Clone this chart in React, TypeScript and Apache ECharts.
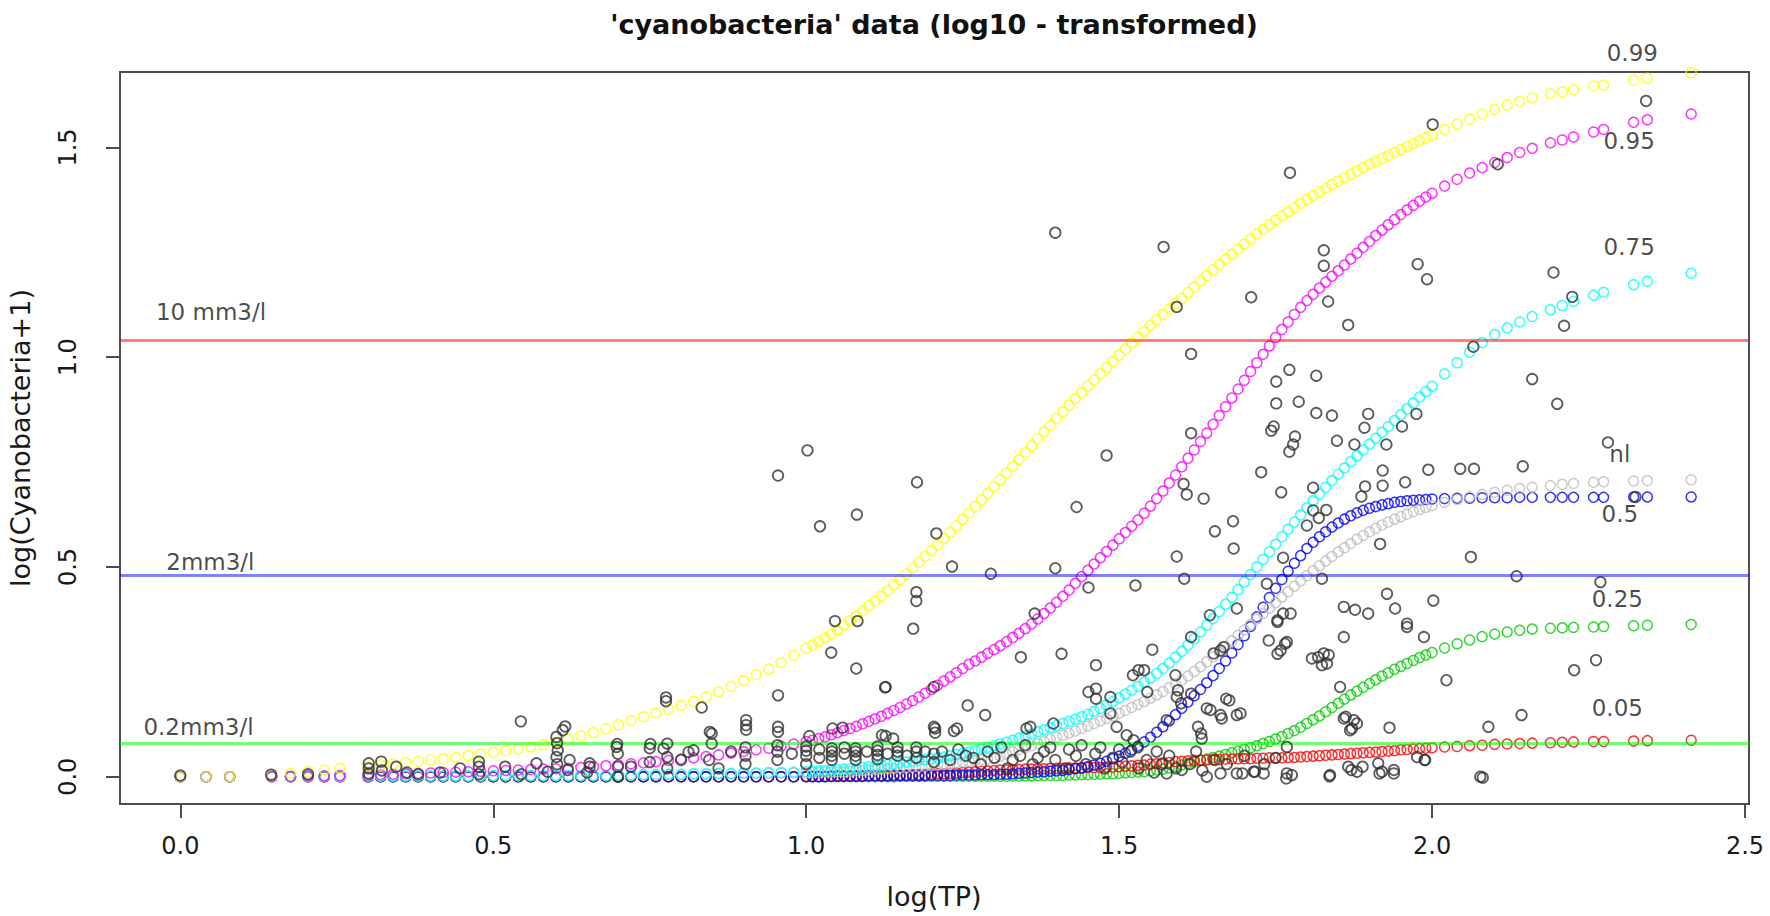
import React, { useEffect, useRef } from "react";
import * as echarts from "echarts";

const TITLE = "'cyanobacteria' data (log10 - transformed)";
const X_NAME = "log(TP)";
const Y_NAME = "log(Cyanobacteria+1)";
const X_TICKS = [0, 0.5, 1, 1.5, 2, 2.5];
const Y_TICKS = [0, 0.5, 1, 1.5];
const X_MIN = -0.0964;
const X_MAX = 2.5064;
const Y_MIN = -0.065;
const Y_MAX = 1.68;

// x positions (log TP) at which the quantile curves were evaluated
const GRID_X = [
  0, 0.041, 0.079, 0.146, 0.176, 0.204, 0.23, 0.255,
  0.30, 0.32, 0.34, 0.36, 0.38, 0.40, 0.42, 0.44, 0.46, 0.48, 0.50, 0.52, 0.54, 0.56, 0.58, 0.60,
  0.62, 0.64, 0.66, 0.68, 0.70, 0.72, 0.74, 0.76, 0.78, 0.80, 0.82, 0.84, 0.86, 0.88, 0.90, 0.92, 0.94, 0.96, 0.98,
  1.00, 1.01, 1.02, 1.03, 1.04, 1.05, 1.06, 1.07, 1.08, 1.09,
  1.10, 1.11, 1.12, 1.13, 1.14, 1.15, 1.16, 1.17, 1.18, 1.19,
  1.20, 1.21, 1.22, 1.23, 1.24, 1.25, 1.26, 1.27, 1.28, 1.29,
  1.30, 1.31, 1.32, 1.33, 1.34, 1.35, 1.36, 1.37, 1.38, 1.39,
  1.40, 1.41, 1.42, 1.43, 1.44, 1.45, 1.46, 1.47, 1.48, 1.49,
  1.50, 1.51, 1.52, 1.53, 1.54, 1.55, 1.56, 1.57, 1.58, 1.59,
  1.60, 1.61, 1.62, 1.63, 1.64, 1.65, 1.66, 1.67, 1.68, 1.69,
  1.70, 1.71, 1.72, 1.73, 1.74, 1.75, 1.76, 1.77, 1.78, 1.79,
  1.80, 1.81, 1.82, 1.83, 1.84, 1.85, 1.86, 1.87, 1.88, 1.89,
  1.90, 1.91, 1.92, 1.93, 1.94, 1.95, 1.96, 1.97, 1.98, 1.99,
  2.00,
  2.02, 2.04, 2.06, 2.08, 2.10, 2.12, 2.14, 2.16, 2.189, 2.208, 2.226, 2.258, 2.274, 2.322, 2.344, 2.414,
];

const Q99 = [
  0, 0, 0, 0.005, 0.008, 0.012, 0.016, 0.02,
  0.025, 0.028, 0.031, 0.034, 0.037, 0.040, 0.043, 0.046, 0.050, 0.054, 0.058, 0.062, 0.066, 0.071, 0.076, 0.082,
  0.089, 0.097, 0.105, 0.114, 0.124, 0.134, 0.143, 0.152, 0.161, 0.170, 0.180, 0.190, 0.202, 0.215, 0.229, 0.243, 0.257, 0.272, 0.289,
  0.306, 0.314, 0.322, 0.331, 0.340, 0.350, 0.361, 0.372, 0.383, 0.395,
  0.407, 0.419, 0.431, 0.444, 0.457, 0.470, 0.483, 0.497, 0.511, 0.525,
  0.539, 0.553, 0.568, 0.583, 0.598, 0.613, 0.628, 0.644, 0.660, 0.676,
  0.692, 0.708, 0.724, 0.740, 0.756, 0.773, 0.789, 0.806, 0.822, 0.838,
  0.854, 0.870, 0.886, 0.901, 0.916, 0.931, 0.946, 0.961, 0.975, 0.990,
  1.005, 1.020, 1.034, 1.048, 1.062, 1.076, 1.089, 1.102, 1.115, 1.128,
  1.140, 1.154, 1.168, 1.182, 1.195, 1.208, 1.221, 1.234, 1.246, 1.258,
  1.270, 1.282, 1.294, 1.305, 1.316, 1.327, 1.337, 1.347, 1.357, 1.367,
  1.376, 1.385, 1.394, 1.403, 1.412, 1.420, 1.428, 1.436, 1.444, 1.452,
  1.460, 1.467, 1.474, 1.481, 1.488, 1.495, 1.502, 1.509, 1.516, 1.523,
  1.530,
  1.543, 1.556, 1.568, 1.580, 1.591, 1.601, 1.610, 1.618, 1.628, 1.633, 1.638, 1.646, 1.649, 1.660, 1.665, 1.678,
];

const Q95 = [
  0, 0, 0, 0.001, 0.001, 0.002, 0.002, 0.003,
  0.004, 0.005, 0.006, 0.007, 0.008, 0.009, 0.010, 0.011, 0.012, 0.013, 0.014, 0.015, 0.016, 0.017, 0.018, 0.019,
  0.020, 0.022, 0.024, 0.026, 0.028, 0.031, 0.033, 0.036, 0.039, 0.042, 0.045, 0.048, 0.052, 0.056, 0.060, 0.064, 0.068, 0.073, 0.078,
  0.084, 0.087, 0.091, 0.095, 0.100, 0.105, 0.110, 0.115, 0.120, 0.126,
  0.132, 0.138, 0.144, 0.151, 0.158, 0.165, 0.173, 0.181, 0.190, 0.199,
  0.208, 0.218, 0.228, 0.238, 0.248, 0.258, 0.268, 0.276, 0.285, 0.294,
  0.303, 0.312, 0.322, 0.332, 0.342, 0.353, 0.364, 0.376, 0.389, 0.402,
  0.416, 0.430, 0.445, 0.461, 0.477, 0.492, 0.507, 0.522, 0.537, 0.552,
  0.567, 0.582, 0.597, 0.612, 0.628, 0.645, 0.663, 0.681, 0.700, 0.719,
  0.739, 0.759, 0.779, 0.799, 0.819, 0.840, 0.861, 0.882, 0.903, 0.924,
  0.945, 0.966, 0.987, 1.007, 1.027, 1.047, 1.066, 1.084, 1.102, 1.119,
  1.135, 1.150, 1.165, 1.179, 1.193, 1.206, 1.220, 1.234, 1.248, 1.262,
  1.276, 1.290, 1.303, 1.316, 1.328, 1.340, 1.351, 1.362, 1.372, 1.382,
  1.391,
  1.408, 1.424, 1.439, 1.452, 1.464, 1.476, 1.488, 1.498, 1.511, 1.518, 1.525, 1.537, 1.543, 1.560, 1.566, 1.580,
];

const Q75 = [
  0, 0, 0, 0, 0, 0.001, 0.001, 0.001,
  0.002, 0.002, 0.002, 0.002, 0.002, 0.002, 0.002, 0.002, 0.002, 0.002, 0.003, 0.003, 0.003, 0.003, 0.003, 0.003,
  0.003, 0.003, 0.003, 0.003, 0.004, 0.004, 0.005, 0.005, 0.006, 0.006, 0.007, 0.007, 0.008, 0.008, 0.009, 0.009, 0.010, 0.010, 0.011,
  0.012, 0.013, 0.014, 0.015, 0.016, 0.017, 0.018, 0.019, 0.020, 0.022,
  0.024, 0.025, 0.027, 0.029, 0.031, 0.033, 0.035, 0.037, 0.039, 0.041,
  0.043, 0.045, 0.047, 0.050, 0.053, 0.056, 0.059, 0.062, 0.066, 0.070,
  0.074, 0.078, 0.082, 0.087, 0.092, 0.097, 0.102, 0.107, 0.112, 0.117,
  0.122, 0.127, 0.132, 0.137, 0.143, 0.149, 0.156, 0.163, 0.171, 0.179,
  0.188, 0.197, 0.206, 0.215, 0.225, 0.235, 0.246, 0.258, 0.271, 0.285,
  0.299, 0.314, 0.329, 0.345, 0.361, 0.377, 0.394, 0.411, 0.428, 0.446,
  0.464, 0.482, 0.500, 0.518, 0.536, 0.554, 0.572, 0.590, 0.607, 0.624,
  0.641, 0.658, 0.674, 0.690, 0.706, 0.721, 0.736, 0.751, 0.765, 0.779,
  0.793, 0.807, 0.821, 0.835, 0.849, 0.863, 0.877, 0.891, 0.905, 0.918,
  0.931,
  0.960, 0.987, 1.012, 1.035, 1.054, 1.070, 1.084, 1.097, 1.113, 1.123, 1.133, 1.148, 1.155, 1.173, 1.181, 1.200,
];

const QNL = [
  0, 0, 0, 0, 0, 0, 0, 0,
  0.001, 0.001, 0.001, 0.001, 0.001, 0.001, 0.001, 0.001, 0.001, 0.001, 0.002, 0.002, 0.002, 0.002, 0.002, 0.002,
  0.002, 0.002, 0.002, 0.002, 0.003, 0.003, 0.004, 0.004, 0.005, 0.005, 0.006, 0.006, 0.007, 0.007, 0.008, 0.008, 0.008, 0.009, 0.009,
  0.009, 0.010, 0.010, 0.011, 0.011, 0.012, 0.012, 0.013, 0.014, 0.015,
  0.016, 0.017, 0.018, 0.019, 0.020, 0.021, 0.022, 0.023, 0.024, 0.025,
  0.027, 0.028, 0.030, 0.031, 0.033, 0.035, 0.037, 0.039, 0.041, 0.043,
  0.045, 0.049, 0.054, 0.059, 0.064, 0.069, 0.074, 0.079, 0.084, 0.089,
  0.094, 0.099, 0.104, 0.109, 0.115, 0.121, 0.127, 0.133, 0.139, 0.145,
  0.151, 0.158, 0.165, 0.172, 0.179, 0.187, 0.195, 0.203, 0.212, 0.221,
  0.230, 0.240, 0.251, 0.262, 0.274, 0.286, 0.298, 0.311, 0.324, 0.337,
  0.350, 0.363, 0.376, 0.389, 0.402, 0.415, 0.428, 0.441, 0.454, 0.467,
  0.479, 0.491, 0.503, 0.514, 0.525, 0.536, 0.546, 0.556, 0.566, 0.575,
  0.584, 0.592, 0.600, 0.607, 0.614, 0.620, 0.626, 0.632, 0.637, 0.642,
  0.646,
  0.654, 0.661, 0.667, 0.673, 0.678, 0.683, 0.687, 0.690, 0.694, 0.697, 0.699, 0.702, 0.703, 0.705, 0.706, 0.708,
];

const Q50 = [
  0, 0, 0, 0, 0, 0, 0, 0,
  0, 0, 0, 0, 0, 0, 0, 0, 0, 0, 0, 0, 0, 0, 0, 0,
  0, 0, 0, 0, 0, 0, 0, 0, 0, 0, 0, 0, 0, 0, 0, 0, 0, 0, 0,
  0.000, 0.000, 0.000, 0.000, 0.001, 0.001, 0.001, 0.001, 0.001, 0.001,
  0.002, 0.002, 0.002, 0.002, 0.002, 0.002, 0.002, 0.002, 0.002, 0.002,
  0.003, 0.003, 0.003, 0.003, 0.004, 0.004, 0.004, 0.004, 0.005, 0.005,
  0.005, 0.006, 0.006, 0.007, 0.008, 0.009, 0.010, 0.011, 0.012, 0.013,
  0.014, 0.015, 0.017, 0.019, 0.021, 0.024, 0.028, 0.032, 0.037, 0.043,
  0.049, 0.056, 0.064, 0.073, 0.083, 0.094, 0.106, 0.119, 0.133, 0.148,
  0.163, 0.178, 0.193, 0.208, 0.224, 0.241, 0.258, 0.276, 0.295, 0.315,
  0.336, 0.358, 0.381, 0.404, 0.427, 0.449, 0.470, 0.490, 0.509, 0.527,
  0.544, 0.559, 0.572, 0.584, 0.595, 0.605, 0.614, 0.622, 0.629, 0.635,
  0.640, 0.644, 0.648, 0.651, 0.654, 0.656, 0.658, 0.659, 0.660, 0.661,
  0.662,
  0.663, 0.664, 0.664, 0.665, 0.665, 0.665, 0.666, 0.666, 0.666, 0.666, 0.666, 0.666, 0.666, 0.667, 0.667, 0.667,
];

const Q25 = [
  0, 0, 0, 0, 0, 0, 0, 0,
  0, 0, 0, 0, 0, 0, 0, 0, 0, 0, 0, 0, 0, 0, 0, 0,
  0, 0, 0, 0, 0, 0, 0, 0, 0, 0, 0, 0, 0, 0, 0, 0, 0, 0, 0,
  0, 0, 0, 0, 0, 0, 0, 0, 0, 0,
  0, 0, 0, 0, 0, 0.001, 0.001, 0.001, 0.001, 0.001,
  0.001, 0.001, 0.001, 0.001, 0.001, 0.001, 0.001, 0.001, 0.001, 0.001,
  0.001, 0.001, 0.001, 0.002, 0.002, 0.002, 0.002, 0.002, 0.003, 0.003,
  0.003, 0.003, 0.004, 0.004, 0.005, 0.005, 0.006, 0.006, 0.007, 0.007,
  0.008, 0.009, 0.010, 0.011, 0.012, 0.014, 0.016, 0.018, 0.021, 0.024,
  0.028, 0.032, 0.035, 0.039, 0.042, 0.046, 0.049, 0.053, 0.057, 0.061,
  0.065, 0.069, 0.074, 0.079, 0.084, 0.090, 0.096, 0.103, 0.110, 0.118,
  0.127, 0.136, 0.145, 0.155, 0.165, 0.175, 0.185, 0.195, 0.204, 0.213,
  0.222, 0.231, 0.240, 0.248, 0.256, 0.263, 0.270, 0.277, 0.284, 0.290,
  0.296,
  0.307, 0.317, 0.326, 0.334, 0.340, 0.345, 0.349, 0.352, 0.354, 0.355, 0.356, 0.357, 0.358, 0.360, 0.361, 0.363,
];

const Q05 = [
  0, 0, 0, 0, 0, 0, 0, 0,
  0, 0, 0, 0, 0, 0, 0, 0, 0, 0, 0, 0, 0, 0, 0, 0,
  0, 0, 0, 0, 0, 0, 0, 0, 0, 0, 0, 0, 0, 0, 0, 0, 0, 0, 0,
  0.001, 0.001, 0.001, 0.001, 0.001, 0.002, 0.002, 0.002, 0.002, 0.002,
  0.003, 0.003, 0.003, 0.003, 0.004, 0.004, 0.004, 0.005, 0.005, 0.005,
  0.006, 0.007, 0.007, 0.008, 0.009, 0.010, 0.011, 0.012, 0.013, 0.014,
  0.015, 0.016, 0.016, 0.017, 0.017, 0.018, 0.018, 0.019, 0.019, 0.020,
  0.020, 0.020, 0.021, 0.021, 0.021, 0.022, 0.022, 0.022, 0.023, 0.023,
  0.024, 0.025, 0.026, 0.027, 0.028, 0.030, 0.031, 0.033, 0.034, 0.036,
  0.037, 0.038, 0.039, 0.040, 0.040, 0.041, 0.041, 0.042, 0.042, 0.043,
  0.043, 0.043, 0.044, 0.044, 0.045, 0.045, 0.045, 0.046, 0.046, 0.047,
  0.048, 0.049, 0.050, 0.051, 0.052, 0.053, 0.054, 0.055, 0.056, 0.057,
  0.058, 0.059, 0.060, 0.061, 0.062, 0.064, 0.065, 0.066, 0.067, 0.068,
  0.069,
  0.071, 0.072, 0.074, 0.075, 0.077, 0.078, 0.079, 0.080, 0.081, 0.082, 0.083, 0.084, 0.084, 0.085, 0.086, 0.087,
];

// observed samples [log(TP), log(Cyanobacteria+1)]
const OBS = [
  [1.398, 1.297], [1.571, 1.263], [1.773, 1.44], [2.001, 1.555], [2.105, 1.46], [2.342, 1.611],
  [1.827, 1.255], [1.827, 1.218], [1.977, 1.222], [1.992, 1.186], [2.194, 1.202], [2.224, 1.144],
  [2.211, 1.075], [1.711, 1.143], [1.834, 1.133], [1.866, 1.077], [1.592, 1.12], [1.615, 1.008],
  [2.066, 1.025], [2.16, 0.948], [2.2, 0.889], [2.281, 0.797],
  [0.955, 0.718], [1.002, 0.778], [1.022, 0.597], [1.081, 0.625], [1.177, 0.702], [1.208, 0.58],
  [1.233, 0.501], [1.295, 0.484], [1.398, 0.497], [1.432, 0.643], [1.48, 0.766], [1.615, 0.819],
  [1.603, 0.698], [1.608, 0.673], [1.635, 0.663], [1.653, 0.585], [1.592, 0.525], [1.604, 0.472],
  [1.451, 0.451], [1.526, 0.456], [1.176, 0.44], [1.176, 0.419], [1.046, 0.371], [1.082, 0.371],
  [1.171, 0.353], [1.365, 0.389], [1.645, 0.385],
  [1.772, 0.97], [1.751, 0.942], [1.815, 0.956], [1.751, 0.89], [1.787, 0.894], [1.815, 0.867],
  [1.84, 0.861], [1.898, 0.865], [1.975, 0.865], [1.952, 0.835], [1.892, 0.832], [1.747, 0.835],
  [1.743, 0.825], [1.781, 0.811], [1.778, 0.792], [1.772, 0.775], [1.848, 0.801], [1.876, 0.792],
  [1.927, 0.792], [1.727, 0.726], [1.921, 0.73], [1.921, 0.694], [1.957, 0.702], [1.994, 0.732],
  [2.045, 0.734], [2.067, 0.734], [2.145, 0.74], [2.325, 0.667], [1.893, 0.692], [1.887, 0.668],
  [1.81, 0.689], [1.759, 0.678], [1.682, 0.609], [1.683, 0.544], [1.81, 0.635], [1.831, 0.636],
  [1.8, 0.599], [1.819, 0.617], [1.917, 0.555], [2.062, 0.524], [2.135, 0.478], [2.269, 0.464],
  [1.762, 0.522], [1.824, 0.472], [1.736, 0.46], [1.928, 0.436], [1.941, 0.401], [2.002, 0.42],
  [1.859, 0.405], [1.877, 0.398], [1.898, 0.389], [1.688, 0.401], [1.753, 0.373], [1.774, 0.389],
  [1.96, 0.365],
  [1.343, 0.285], [1.408, 0.293], [1.463, 0.266], [1.553, 0.303], [1.59, 0.242], [1.651, 0.294],
  [1.127, 0.214], [1.204, 0.214], [1.258, 0.17], [1.286, 0.147], [1.236, 0.109], [1.204, 0.119],
  [1.358, 0.119], [1.463, 0.21], [1.463, 0.186], [1.522, 0.242], [1.54, 0.254], [1.594, 0.206],
  [1.599, 0.175], [1.615, 0.198], [1.667, 0.309], [1.64, 0.163], [1.662, 0.147], [1.688, 0.147],
  [1.671, 0.186], [1.626, 0.119], [1.631, 0.103], [1.486, 0.151], [1.739, 0.325], [1.753, 0.293],
  [1.765, 0.317], [1.818, 0.285], [1.832, 0.27], [1.859, 0.333], [1.853, 0.214], [1.862, 0.143],
  [1.88, 0.127], [1.869, 0.111], [1.932, 0.117], [2.023, 0.23], [2.09, 0.119], [2.143, 0.147],
  [2.227, 0.254], [2.262, 0.278], [2.081, -0.002], [1.989, 0.04], [1.916, 0.008], [1.939, 0.016],
  [1.889, 0.024], [1.871, 0.016], [1.836, 0.001], [1.767, -0.004], [1.717, 0.012], [1.697, 0.008],
  [1.662, 0.008], [1.987, 0.333], [1.827, 0.294], [1.762, 0.389],
  [1.451, 0.202], [1.486, 0.19], [1.531, 0.254], [1.545, 0.202], [1.615, 0.333], [1.395, 0.127],
  [1.496, 0.119], [1.512, 0.099], [1.523, 0.087], [1.592, 0.19], [1.676, 0.182], [1.694, 0.151],
  [1.646, 0.159], [1.664, 0.139], [1.576, 0.135], [1.632, 0.091], [1.662, 0.301], [1.758, 0.301],
  [1.768, 0.321], [1.753, 0.369], [1.808, 0.282], [1.824, 0.266], [1.835, 0.29], [1.96, 0.357],
  [1.859, 0.139], [1.875, 0.135], [1.872, 0.115], [1.768, 0.071], [1.715, 0.012], [1.731, 0.008],
  [1.688, 0.008], [1.64, 0.0], [1.768, 0.008], [1.776, 0.004], [1.837, 0.004], [1.866, 0.024],
  [1.88, 0.012], [1.914, 0.032], [1.92, 0.012], [1.939, 0.008], [1.976, 0.047], [1.988, 0.04],
  [2.077, 0.0], [1.576, 0.008], [1.6, 0.016],
  [1.04, 0.296], [1.08, 0.258], [1.126, 0.213], [0.955, 0.194], [0.776, 0.189], [0.776, 0.18],
  [0.833, 0.165], [0.544, 0.132], [0.615, 0.12], [0.601, 0.095], [0.698, 0.078], [0.751, 0.078],
  [0.778, 0.079], [0.849, 0.103], [0.849, 0.079], [0.904, 0.135], [0.904, 0.123], [0.904, 0.112],
  [0.955, 0.119], [0.955, 0.107], [1.005, 0.097], [1.042, 0.115], [1.058, 0.117], [1.127, 0.097],
  [1.121, 0.099], [1.139, 0.091], [1.206, 0.115], [1.206, 0.105], [1.241, 0.115], [1.352, 0.115],
  [0.611, 0.111], [0.603, 0.063], [0.601, 0.047], [0.622, 0.04], [0.697, 0.071], [0.75, 0.068],
  [0.772, 0.067], [0.82, 0.063], [0.846, 0.107],
  [0, 0.003], [0.145, 0.005], [0.204, 0.006], [0.301, 0.032], [0.301, 0.008], [0.321, 0.036],
  [0.345, 0.024], [0.38, 0.006], [0.477, 0.036], [0.477, 0.006], [0.477, 0.024], [0.519, 0.024],
  [0.545, 0.006], [0.569, 0.032], [0.587, 0.012], [0.619, 0.016], [0.654, 0.032], [0.654, 0.024],
  [0.699, 0.0], [0.699, 0.024], [0.699, 0.055], [0.72, 0.024], [0.778, 0.047], [0.812, 0.059],
  [0.845, 0.04], [0.903, 0.03], [0.903, 0.05], [0.954, 0.04], [0.954, 0.06], [1.0, 0.03],
  [1.0, 0.05], [1.0, 0.062], [1.041, 0.05], [1.041, 0.06], [1.041, 0.068], [1.079, 0.05],
  [1.079, 0.06], [1.079, 0.068], [1.114, 0.052], [1.114, 0.062], [1.146, 0.05], [1.146, 0.06],
  [1.176, 0.045], [1.176, 0.06], [1.204, 0.035], [1.204, 0.055], [1.23, 0.04], [1.255, 0.05],
  [1.279, 0.03], [1.301, 0.045], [1.322, 0.02], [1.342, 0.05], [1.362, 0.03], [1.38, 0.06],
  [1.398, 0.04], [1.415, 0.02], [1.431, 0.05], [1.447, 0.03], [1.462, 0.055], [1.477, 0.02],
  [1.49, 0.045], [1.505, 0.035], [1.518, 0.06], [1.531, 0.02], [1.544, 0.04], [1.556, 0.01],
  [1.568, 0.03], [1.58, 0.05], [1.591, 0.02], [1.613, 0.03], [1.623, 0.06], [1.633, 0.015],
  [1.653, 0.04], [1.672, 0.03], [1.7, 0.05], [1.732, 0.03], [1.75, 0.045],
  [0.903, 0.07], [0.954, 0.075], [0.977, 0.055], [1.0, 0.072], [1.021, 0.045], [1.021, 0.065],
  [1.041, 0.04], [1.061, 0.055], [1.061, 0.07], [1.079, 0.04], [1.097, 0.06], [1.114, 0.042],
  [1.114, 0.072], [1.13, 0.055], [1.146, 0.07], [1.161, 0.05], [1.176, 0.07], [1.19, 0.06],
  [1.217, 0.06], [1.243, 0.065], [1.267, 0.045], [1.29, 0.06], [1.312, 0.07], [1.33, 0.04],
  [1.35, 0.075], [1.37, 0.045], [1.39, 0.07], [1.42, 0.065], [1.44, 0.075], [1.47, 0.07],
  [1.5, 0.065], [1.53, 0.07], [1.56, 0.06], [0.301, 0.02], [0.322, 0.015], [0.362, 0.01],
  [0.415, 0.01], [0.447, 0.02], [0.602, 0.03], [0.602, 0.08], [0.65, 0.01], [0.75, 0.035],
  [0.778, 0.02], [0.8, 0.04], [0.86, 0.02], [0.88, 0.06],
];

// reference levels: log10(10+1), log10(2+1), log10(0.2+1)
const THRESHOLDS = [1.044, 0.48, 0.079];
const THRESHOLD_COLORS = ["rgba(255,0,0,0.5)", "rgba(0,0,255,0.5)", "rgba(0,255,0,0.55)"];
const THRESHOLD_LABELS: [number, number, string][] = [
  [0.049, 1.107, "10 mm3/l"],
  [0.048, 0.512, "2mm3/l"],
  [0.029, 0.119, "0.2mm3/l"],
];
const CURVE_LABELS: [number, number, string][] = [
  [2.32, 1.726, "0.99"],
  [2.315, 1.516, "0.95"],
  [2.315, 1.262, "0.75"],
  [2.3, 0.77, "nl"],
  [2.3, 0.627, "0.5"],
  [2.296, 0.423, "0.25"],
  [2.296, 0.163, "0.05"],
];

const CURVES: [string, number[], string][] = [
  ["0.25", Q25, "#00cd00"],
  ["0.05", Q05, "#ff0000"],
  ["0.5", Q50, "#0000ff"],
  ["nl", QNL, "#bebebe"],
  ["0.75", Q75, "#00ffff"],
  ["0.95", Q95, "#ff00ff"],
  ["0.99", Q99, "#ffff00"],
];

const FONT = "DejaVu Sans";

export default function App() {
  const ref = useRef<HTMLDivElement>(null);

  useEffect(() => {
    if (!ref.current) return;
    const chart = echarts.init(ref.current, undefined, { renderer: "svg" });

    const curveSeries = CURVES.map(([name, ys, color]) => ({
      type: "scatter",
      name,
      data: GRID_X.map((x, i) => [x, ys[i]]).filter((d) => d[1] !== undefined),
      symbol: "circle",
      symbolSize: 10,
      itemStyle: { color: "rgba(255,255,255,0)", borderColor: color, borderWidth: 1.5 },
      silent: true,
      progressive: 0,
      z: 3,
    }));

    const option: any = {
      animation: false,
      backgroundColor: "#ffffff",
      grid: {
        left: 120,
        right: 21,
        top: 72,
        bottom: 112,
        show: true,
        borderColor: "#4d4d4d",
        borderWidth: 2,
        backgroundColor: "rgba(0,0,0,0)",
      },
      xAxis: {
        type: "value",
        min: X_MIN,
        max: X_MAX,
        axisLine: { show: false, onZero: false },
        splitLine: { show: false },
        axisTick: {
          show: true,
          customValues: X_TICKS,
          length: 14,
          lineStyle: { color: "#4d4d4d", width: 2 },
        },
        axisLabel: {
          show: true,
          customValues: X_TICKS,
          formatter: (v: number) => v.toFixed(1),
          margin: 30,
          fontSize: 24,
          color: "#1a1a1a",
          fontFamily: FONT,
        },
      },
      yAxis: {
        type: "value",
        min: Y_MIN,
        max: Y_MAX,
        axisLine: { show: false, onZero: false },
        splitLine: { show: false },
        axisTick: {
          show: true,
          customValues: Y_TICKS,
          length: 14,
          lineStyle: { color: "#4d4d4d", width: 2 },
        },
        axisLabel: {
          show: true,
          customValues: Y_TICKS,
          formatter: (v: number) => v.toFixed(1),
          rotate: 90,
          margin: 40,
          fontSize: 24,
          color: "#1a1a1a",
          fontFamily: FONT,
        },
      },
      graphic: [
        {
          type: "text",
          x: 934,
          y: 24,
          style: {
            text: TITLE,
            font: `bold 27px "${FONT}"`,
            fill: "#111111",
            align: "center",
            verticalAlign: "middle",
            textAlign: "center",
            textVerticalAlign: "middle",
          },
        },
        {
          type: "text",
          x: 934,
          y: 896,
          style: {
            text: X_NAME,
            font: `27px "${FONT}"`,
            fill: "#1a1a1a",
            align: "center",
            verticalAlign: "middle",
            textAlign: "center",
            textVerticalAlign: "middle",
          },
        },
        {
          type: "text",
          x: 20,
          y: 438,
          rotation: Math.PI / 2,
          style: {
            text: Y_NAME,
            font: `27px "${FONT}"`,
            fill: "#1a1a1a",
            align: "center",
            verticalAlign: "middle",
            textAlign: "center",
            textVerticalAlign: "middle",
          },
        },
      ],
      series: [
        {
          type: "scatter",
          name: "labels",
          data: [...THRESHOLD_LABELS, ...CURVE_LABELS].map((d) => ({ value: [d[0], d[1]], name: d[2] })),
          symbolSize: 1,
          itemStyle: { color: "rgba(255,255,255,0)" },
          clip: false,
          silent: true,
          z: 2,
          label: {
            show: true,
            position: "inside",
            formatter: (p: any) => p.name,
            fontSize: 23,
            color: "#1a1a1a",
            fontFamily: FONT,
          },
          markLine: {
            silent: true,
            symbol: ["none", "none"],
            label: { show: false },
            data: THRESHOLDS.map((v, i) => ({
              yAxis: v,
              lineStyle: { color: THRESHOLD_COLORS[i], width: 3, type: "solid" },
            })),
          },
        },
        ...curveSeries,
        {
          type: "scatter",
          name: "obs",
          data: OBS,
          symbol: "circle",
          symbolSize: 10.5,
          itemStyle: { color: "rgba(255,255,255,0)", borderColor: "#333333", borderWidth: 1.8 },
          silent: true,
          progressive: 0,
          z: 5,
        },
      ],
    };

    chart.setOption(option);
    return () => {
      chart.dispose();
    };
  }, []);

  return (
    <div
      ref={ref}
      style={{ position: "absolute", left: 0, top: 0, width: 1770, height: 916, background: "#ffffff" }}
    />
  );
}
